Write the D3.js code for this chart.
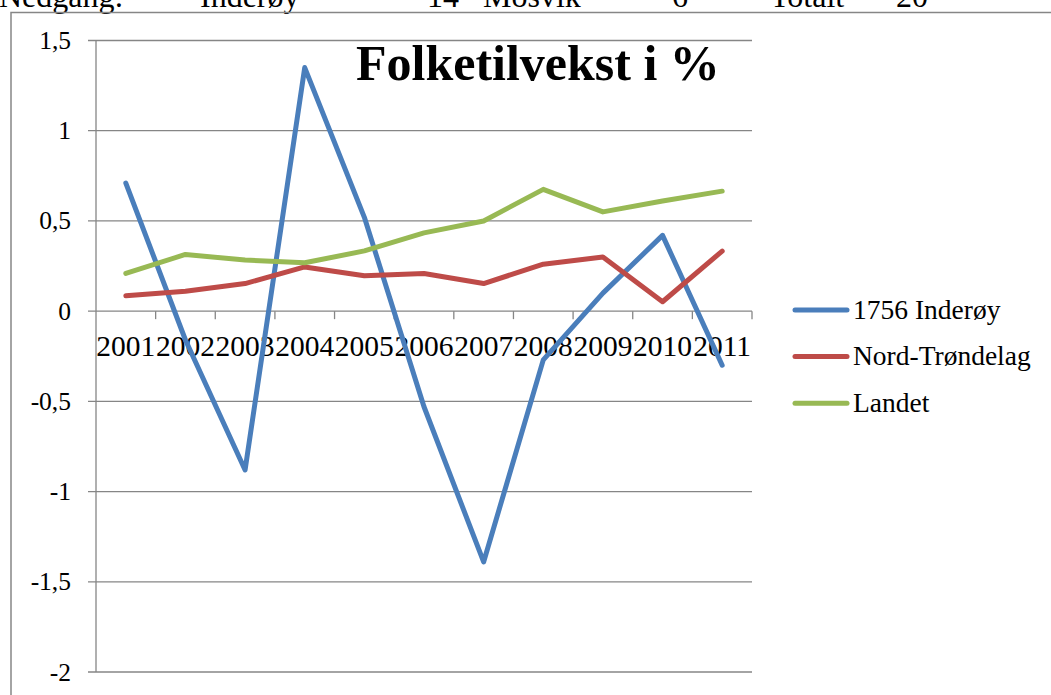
<!DOCTYPE html>
<html>
<head>
    <meta charset="utf-8">
    <style>
        body { margin: 0; background: #fff; }
        svg text { font-family: "Liberation Serif", "Times New Roman", serif; fill: #000; }
        line.grid { stroke: #868686; stroke-width: 1.3px; }
        path.series { fill: none; stroke-width: 5px; stroke-linejoin: round; stroke-linecap: round; }
    </style>
</head>
<body>
<div id="chart"></div>
<script src="https://cdn.jsdelivr.net/npm/d3@7/dist/d3.min.js"></script>
<script>

    // values
    var years = ["2001", "2002", "2003", "2004", "2005", "2006", "2007", "2008", "2009", "2010", "2011"];
    var inderoy = [0.71, -0.16, -0.88, 1.35, 0.52, -0.53, -1.39, -0.27, 0.10, 0.42, -0.30];
    var nordTrondelag = [0.085, 0.11, 0.153, 0.245, 0.196, 0.209, 0.153, 0.26, 0.30, 0.052, 0.333];
    var landet = [0.209, 0.314, 0.283, 0.268, 0.334, 0.434, 0.50, 0.675, 0.55, 0.61, 0.665];
    var yTicks = [-2, -1.5, -1, -0.5, 0, 0.5, 1, 1.5];
    var seriesNames = ["1756 Inderøy", "Nord-Trøndelag", "Landet"];
    var seriesColors = ["#4a7ebb", "#be4b48", "#98b954"];
    var headerWords = ["Nedgang:", "Inderøy", "14", "Mosvik", "6", "Totalt", "20"];
    var headerX = [-1, 200, 427, 483, 672, 770, 896];

    var width = 1051;
    var height = 695;

    var svg = d3.select("#chart").append("svg")
        .attr("width", width)
        .attr("height", height);

    // text line from the page above the chart, cut by the top edge as in the original
    svg.append("g").selectAll("text")
        .data(headerWords)
        .enter().append("text")
        .attr("x", function (d, i) { return headerX[i]; })
        .attr("y", 7)
        .style("font-size", "32px")
        .text(function (d) { return d; });

    // chart frame
    svg.append("rect")
        .attr("x", 11).attr("y", 12.5)
        .attr("width", 1100).attr("height", 800)
        .attr("fill", "none")
        .attr("stroke", "#868686")
        .attr("stroke-width", 1.5);

    var x = d3.scaleBand().domain(years).range([96, 752]);
    var y = d3.scaleLinear().domain([-2, 1.5]).range([672, 40.5]);

    // horizontal gridlines with their little left ticks
    svg.append("g").selectAll("line")
        .data(yTicks)
        .enter().append("line")
        .attr("class", "grid")
        .attr("x1", 88).attr("x2", 752)
        .attr("y1", function (d) { return y(d); })
        .attr("y2", function (d) { return y(d); });

    // y axis line
    svg.append("line").attr("class", "grid")
        .attr("x1", 96).attr("x2", 96)
        .attr("y1", y(1.5)).attr("y2", y(-2));

    // x tick marks at category borders
    var borders = years.map(function (d) { return x(d); }).concat([x.range()[1]]);
    svg.append("g").selectAll("line")
        .data(borders.slice(1))
        .enter().append("line")
        .attr("class", "grid")
        .attr("x1", function (d) { return d; }).attr("x2", function (d) { return d; })
        .attr("y1", y(0)).attr("y2", y(0) + 8);

    // y tick labels
    svg.append("g").selectAll("text")
        .data(yTicks)
        .enter().append("text")
        .attr("x", 71)
        .attr("y", function (d) { return y(d) + 8.5; })
        .attr("text-anchor", "end")
        .style("font-size", "25.5px")
        .text(function (d) { return String(d).replace(".", ","); });

    // x tick labels
    svg.append("g").selectAll("text")
        .data(years)
        .enter().append("text")
        .attr("x", function (d) { return x(d) + x.bandwidth() / 2; })
        .attr("y", 356)
        .attr("text-anchor", "middle")
        .style("font-size", "29.5px")
        .text(function (d) { return d; });

    var line = d3.line()
        .x(function (d, i) { return x(years[i]) + x.bandwidth() / 2; })
        .y(function (d) { return y(d); });

    svg.append("g").selectAll("path")
        .data([inderoy, nordTrondelag, landet])
        .enter().append("path")
        .attr("class", "series")
        .attr("stroke", function (d, i) { return seriesColors[i]; })
        .attr("d", line);

    // title
    svg.append("text")
        .attr("x", 356)
        .attr("y", 80)
        .style("font-size", "50px")
        .style("font-weight", "bold")
        .text("Folketilvekst i %");

    // legend
    var legend = svg.append("g").selectAll("g")
        .data(seriesNames)
        .enter().append("g")
        .attr("transform", function (d, i) { return "translate(0," + (310 + i * 46.6) + ")"; });

    legend.append("line")
        .attr("x1", 795).attr("x2", 847)
        .attr("stroke", function (d, i) { return seriesColors[i]; })
        .attr("stroke-width", 5)
        .attr("stroke-linecap", "round");

    legend.append("text")
        .attr("x", 853)
        .attr("y", 8.5)
        .style("font-size", "27.5px")
        .text(function (d) { return d; });

</script>
</body>
</html>
